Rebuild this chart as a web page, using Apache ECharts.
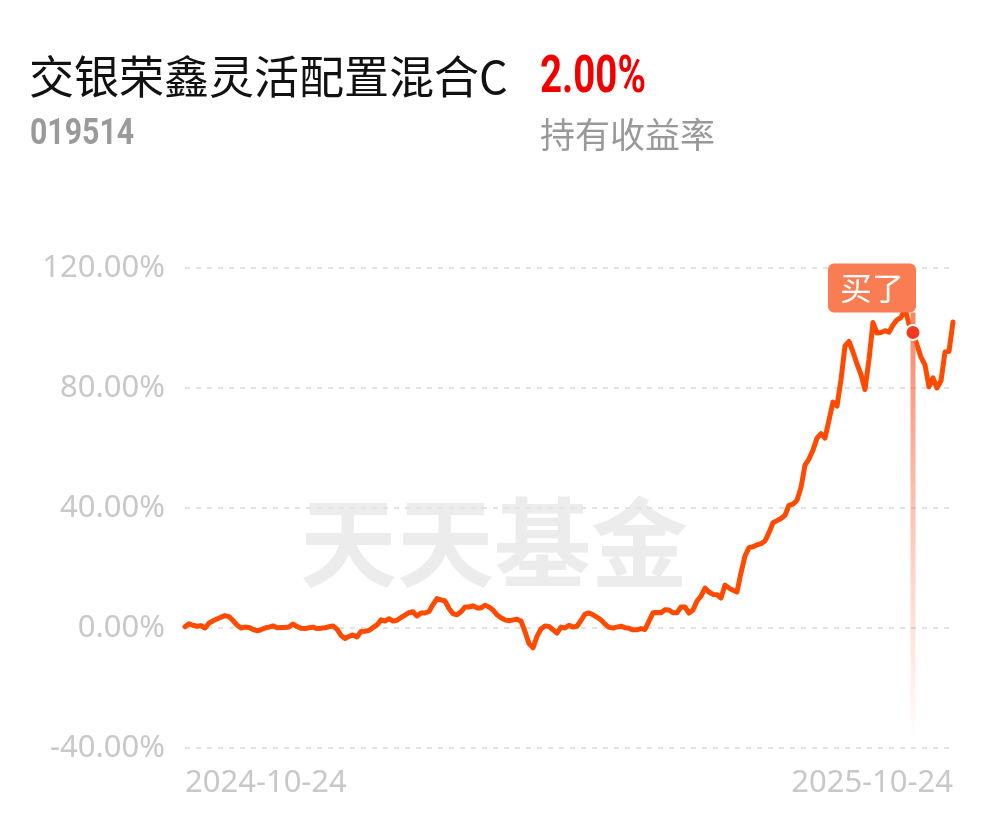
<!DOCTYPE html>
<html>
<head>
<meta charset="utf-8">
<script src="https://cdn.jsdelivr.net/npm/echarts@6/dist/echarts.min.js"></script>
<style>
html,body{margin:0;padding:0;background:#fff;}
#chart{width:995px;height:821px;}
</style>
</head>
<body>
<div id="chart"></div>
<script>
const fundName = '交银荣鑫灵活配置混合C';
const fundCode = '019514';
const holdReturn = '2.00%';
const holdReturnLabel = '持有收益率';
const watermark = '天天基金';
const startDate = '2024-10-24';
const endDate = '2025-10-24';
const xTickLabels = ['2024-10-24', '2025-10-24'];
const yTicks = [-40, 0, 40, 80, 120];
const buyLabel = '买了';
const buyIndex = 182;

const returnValues = [
  0.4, 1.4, 0.9, 0.6, 0.8, 0, 1.6, 2.4, 3.0, 3.6,
  4.1, 3.8, 2.5, 1.0, 0, 0.3, 0.2, -0.5, -0.9, -0.6,
  0, 0.3, 0.7, 0.1, 0.2, 0.2, 0.3, 1.3, 0.5, -0.1,
  -0.2, 0.1, 0.3, -0.2, -0.1, 0.1, 0.4, 0.7, -0.4, -2.5,
  -3.5, -2.8, -2.3, -3.0, -1.2, -1.1, -0.8, 0.2, 1.0, 2.7,
  2.3, 3.1, 2.3, 2.6, 3.5, 4.3, 5.1, 5.4, 4.0, 5.0,
  5.0, 5.5, 7.8, 9.8, 9.4, 9.0, 6.5, 4.8, 4.4, 5.4,
  7.0, 7.0, 7.4, 6.7, 6.7, 7.6, 7.0, 6.0, 4.4, 3.4,
  2.7, 2.4, 2.7, 2.9, 2.3, -1.2, -5.2, -6.6, -2.8, -0.3,
  0.7, 0.5, -0.6, -1.7, 0.3, 0, 0.9, 0.3, 0.6, 2.5,
  4.6, 5.0, 4.4, 3.6, 2.7, 1.3, 0.2, 0, 0.3, 0.6,
  0.1, -0.1, -0.6, -0.6, -0.2, -0.5, 2.3, 5.1, 5.2, 5.1,
  6.1, 6.0, 5.1, 5.1, 7.0, 7.0, 5.0, 6.0, 9.0, 10.6,
  13.3, 12.0, 11.2, 11.1, 10.0, 14.3, 13.3, 12.6, 12.0, 18.4,
  24.0, 26.8, 27.1, 27.7, 28.1, 29.0, 31.8, 35.1, 35.8, 36.5,
  37.6, 40.9, 41.3, 42.6, 46.8, 54.3, 56.3, 59.3, 63.3, 64.8,
  63.3, 69.3, 75.3, 74.0, 82.7, 94.0, 95.5, 92.0, 88.0, 84.5,
  79.5, 89.5, 101.8, 98.3, 98.5, 99.1, 98.6, 101.0, 102.7, 103.5,
  106.5, 101.3, 98.5, 94.3, 90.3, 87.7, 80.4, 83.4, 80.0, 82.4,
  92.0, 92.2, 102.0
];

// date categories spread over the period
const n = returnValues.length;
const t0 = Date.parse(startDate + 'T00:00:00Z');
const t1 = Date.parse(endDate + 'T00:00:00Z');
const categories = returnValues.map((_, i) => {
  const d = new Date(t0 + Math.round(i * (t1 - t0) / 86400000 / (n - 1)) * 86400000);
  return d.toISOString().slice(0, 10);
});

const chart = echarts.init(document.getElementById('chart'));
const lineColor = '#ff4a00';

const option = {
  backgroundColor: '#fff',
  animation: false,
  title: [
    { text: fundName, left: 29, top: 54, padding: 0,
      textStyle: { fontSize: 45, fontWeight: 'normal', color: '#111', fontFamily: 'Noto Sans CJK SC' } },
    { text: holdReturnLabel, left: 540, top: 117, padding: 0,
      textStyle: { fontSize: 35, fontWeight: 'normal', color: '#999', fontFamily: 'Noto Sans CJK SC' } }
  ],
  graphic: [
    { type: 'text', left: 300, top: 494, z: 0, silent: true,
      style: { text: watermark, fontSize: 97, fontWeight: 'bold', fill: '#ececec',
        fontFamily: 'Noto Sans CJK SC' } },
    { type: 'text', x: 540, y: 53, scaleX: 0.74, silent: true,
      style: { text: holdReturn, fontSize: 52, fontWeight: 'bold', fill: '#f20000',
        fontFamily: 'Roboto', verticalAlign: 'top' } },
    { type: 'text', x: 30, y: 117, scaleX: 0.84, silent: true,
      style: { text: fundCode, fontSize: 36, fontWeight: 'bold', fill: '#9a9a9a',
        fontFamily: 'Roboto', verticalAlign: 'top' } }
  ],
  grid: { left: 185, right: 42, top: 268, bottom: 73, containLabel: false },
  xAxis: {
    type: 'category',
    data: categories,
    boundaryGap: false,
    axisLine: { show: false },
    axisTick: { show: false },
    splitLine: { show: false },
    axisLabel: {
      interval: (i) => i === 0 || i === n - 1,
      formatter: (v, i) => (i === 0 ? xTickLabels[0] : xTickLabels[xTickLabels.length - 1]),
      alignMinLabel: 'left',
      alignMaxLabel: 'right',
      color: '#c8c8c8',
      fontSize: 31,
      fontFamily: 'Noto Sans',
      margin: 20
    }
  },
  yAxis: {
    type: 'value',
    min: yTicks[0],
    max: yTicks[yTicks.length - 1],
    interval: 40,
    axisLine: { show: false },
    axisTick: { show: false },
    axisLabel: {
      formatter: (v) => v.toFixed(2) + '%',
      color: '#c8c8c8',
      fontSize: 31,
      fontFamily: 'Noto Sans',
      margin: 20
    },
    splitLine: { lineStyle: { color: '#e3e3e3', width: 2, type: [5, 6] } }
  },
  series: [
    {
      type: 'line',
      data: returnValues,
      symbol: 'none',
      z: 3,
      lineStyle: { color: lineColor, width: 5, cap: 'round', join: 'round' }
    },
    {
      type: 'custom',
      z: 4,
      data: [[buyIndex, returnValues[buyIndex]]],
      renderItem: function (params, api) {
        const p = api.coord([api.value(0), api.value(1)]);
        const bottomY = api.coord([api.value(0), -37.3])[1];
        const boxBottom = p[1] - 20;
        const boxTop = p[1] - 69;
        return {
          type: 'group',
          children: [
            { type: 'rect', z2: 1,
              shape: { x: p[0] - 2.5, y: boxBottom, width: 5, height: bottomY - boxBottom },
              style: { fill: new echarts.graphic.LinearGradient(0, 0, 0, 1, [
                { offset: 0, color: 'rgba(248,110,70,0.85)' },
                { offset: 0.6, color: 'rgba(248,130,95,0.35)' },
                { offset: 1, color: 'rgba(248,130,95,0)' }
              ]) } },
            { type: 'rect', z2: 2,
              shape: { x: p[0] - 85, y: boxTop, width: 88, height: boxBottom - boxTop, r: 6 },
              style: { fill: '#fa7c53' } },
            { type: 'text', z2: 3,
              style: { text: buyLabel, x: p[0] - 41, y: (boxTop + boxBottom) / 2,
                align: 'center', verticalAlign: 'middle', fill: '#fff', fontSize: 32,
                fontFamily: 'Noto Sans CJK SC' } },
            { type: 'circle', z2: 4,
              shape: { cx: p[0], cy: p[1], r: 7.5 },
              style: { fill: '#f23a1e', stroke: '#fff', lineWidth: 2 } }
          ]
        };
      }
    }
  ]
};
chart.setOption(option);
</script>
</body>
</html>
